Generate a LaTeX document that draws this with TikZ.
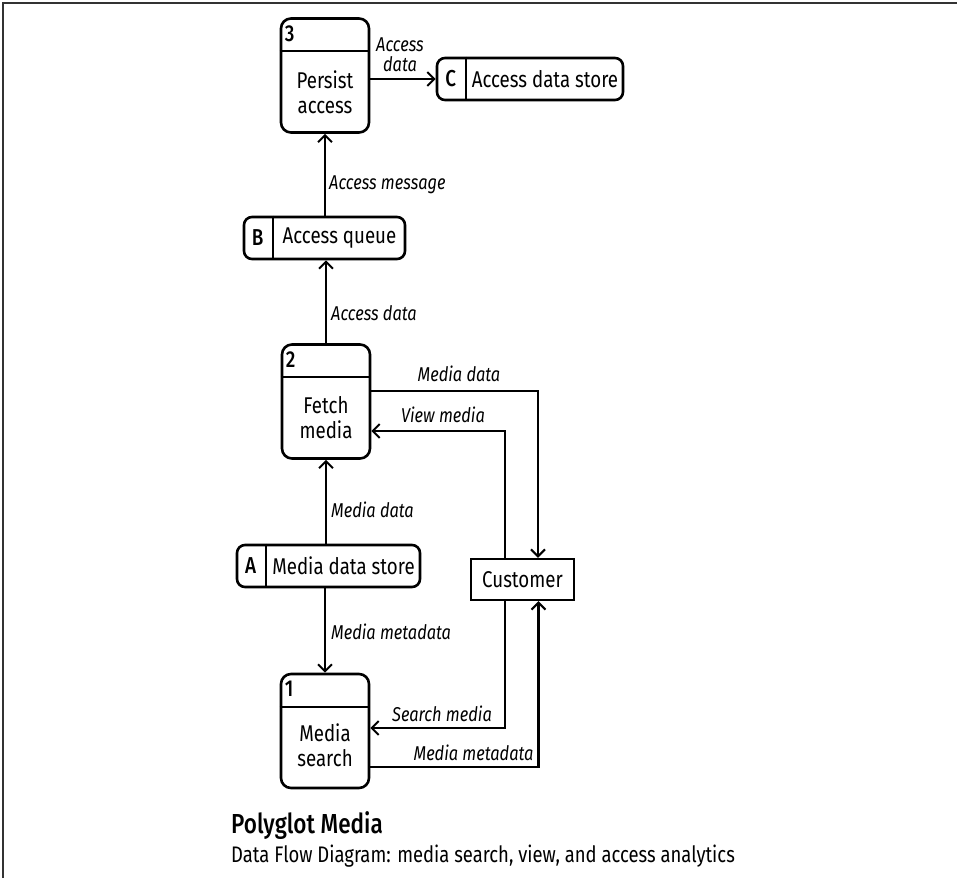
\documentclass[tikz,border=0pt]{standalone}
\usepackage{fontspec}
\setmainfont[FakeStretch=0.82]{Fira Sans}
\newfontfamily\idfont[FakeStretch=0.82]{Fira Sans Medium}
\usetikzlibrary{arrows.meta,calc}

\tikzset{
  frameline/.style={line width=2pt, draw=black!80},
  proc/.style={draw, line width=2.6pt, rounded corners=10pt, minimum width=88pt, minimum height=114pt, inner sep=0pt},
  store/.style={draw, line width=2.6pt, rounded corners=8pt, minimum height=42pt, inner sep=0pt},
  ext/.style={draw, line width=2.4pt, minimum width=103pt, minimum height=41pt, inner sep=0pt},
  divider/.style={line width=2.4pt},
  flow/.style={line width=2.2pt, -{Straight Barb[length=7pt,width=14pt,line width=2pt]}},
  txt/.style={font=\fontsize{22.8}{25}\selectfont, align=center, inner sep=0pt},
  idtxt/.style={font=\idfont\fontsize{23}{25}\selectfont, inner sep=0pt},
  lbl/.style={font=\fontsize{20}{20}\selectfont\itshape, align=center, inner sep=0pt},
}

\begin{document}
\begin{tikzpicture}[x=1pt,y=-1pt]
\useasboundingbox (0,0) rectangle (957,878);

% page frame
\draw[frameline] (3,878) -- (3,3) -- (957,3);

% processes
\node[proc] (p3) at (325,75.5) {};
\node[proc] (p2) at (326,401.5) {};
\node[proc] (p1) at (325,731) {};
\foreach \p/\n in {p3/3, p2/2, p1/1} {
  \draw[divider] ([yshift=-34pt]\p.north west) -- ([yshift=-34pt]\p.north east);
  \node[idtxt, anchor=base west] (\p id) at ([xshift=5pt,yshift=-24pt]\p.north west) {\n};
}
\node[txt] (p3t) at ([yshift=-16.5pt]p3.center) {Persist\\access};
\node[txt] (p2t) at ([yshift=-16.5pt]p2.center) {Fetch\\media};
\node[txt] (p1t) at ([yshift=-14.5pt]p1.center) {Media\\search};

% data stores
\node[store, minimum width=186pt] (c) at (530,79) {};
\node[store, minimum width=161pt] (b) at (324.5,238) {};
\node[store, minimum width=183pt] (a) at (328.5,566) {};
\foreach \s/\n/\t in {c/C/Access data store, b/B/Access queue, a/A/Media data store} {
  \draw[divider] ([xshift=30pt]\s.north west) -- ([xshift=30pt]\s.south west);
  \node[idtxt] (\s id) at ([xshift=15pt]\s.west) {\n};
  \node[txt] (\s t) at ([xshift=15pt]\s.center) {\t};
}

% external entity
\node[ext, txt] (cust) at (522.5,579.5) {Customer};

% flows
\draw[flow] (p3.east |- c.west) -- (c.west);
\draw[flow] (b.north -| p3.south) -- (p3.south);
\draw[flow] (p2.north) -- (b.south -| p2.north);
\draw[flow] (a.north -| p2.south) -- (p2.south);
\draw[flow] (a.south -| p1.north) -- (p1.north);
\draw[flow] ([yshift=10.5pt]p2.east) -| ([xshift=15.5pt]cust.north);
\draw[flow] ([xshift=-17.5pt]cust.north) |- ([yshift=-29.5pt]p2.east);
\draw[flow] ([xshift=-17.5pt]cust.south) |- ([yshift=3pt]p1.east);
\draw[flow] ([yshift=-36pt]p1.east) -| ([xshift=16pt]cust.south);

% flow labels
\node[lbl] (l1) at (400,55) {Access\\data};
\node[lbl, anchor=west] (l2) at (329,185) {Access message};
\node[lbl, anchor=west] (l3) at (331,313) {Access data};
\node[lbl] (l4) at (459,374) {Media data};
\node[lbl] (l5) at (443,415) {View media};
\node[lbl, anchor=west] (l6) at (331,510) {Media data};
\node[lbl, anchor=west] (l7) at (331,632) {Media metadata};
\node[lbl] (l8) at (442,714) {Search media};
\node[lbl] (l9) at (473.5,753) {Media metadata};

% caption
\node[anchor=west, inner sep=0pt, font=\idfont\fontsize{27.5}{30}\selectfont] (title) at (231,826) {Polyglot Media};
\node[anchor=west, inner sep=0pt, font=\fontsize{22.5}{24}\selectfont] (subtitle) at (231,856) {Data Flow Diagram: media search, view, and access analytics};
\end{tikzpicture}
\end{document}
